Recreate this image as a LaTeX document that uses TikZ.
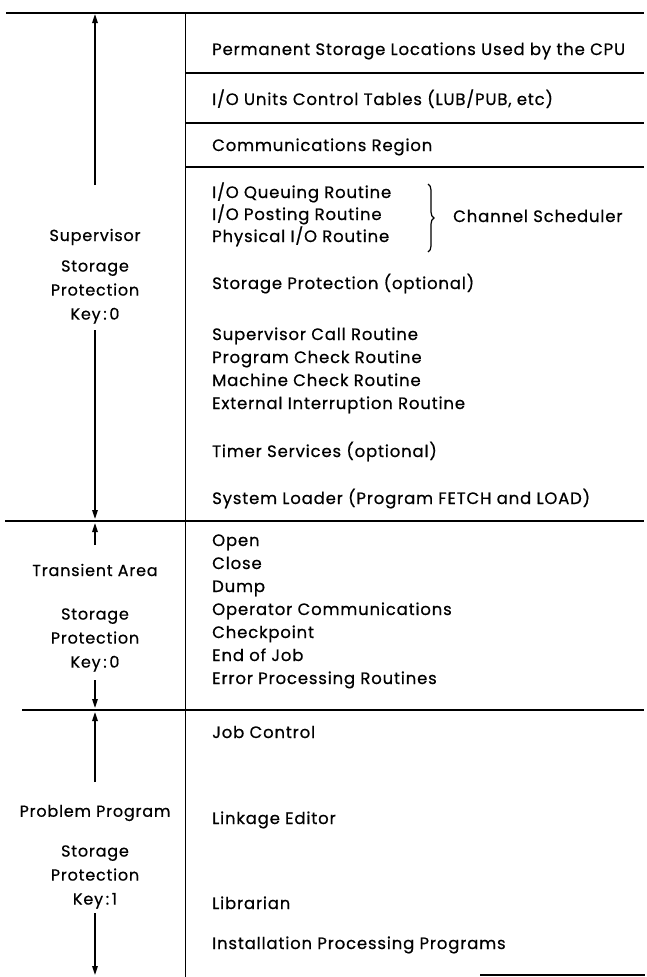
\documentclass[tikz,border=0pt]{standalone}
\usepackage{fontspec}
\setmainfont{Poppins}[LetterSpace=5,FakeBold=0.6]
\usetikzlibrary{arrows.meta,decorations.pathreplacing}
\begin{document}
\begin{tikzpicture}[x=1pt,y=-1pt,
  txt/.style={anchor=base west,inner sep=0pt,font=\fontsize{16.5}{18}\selectfont},
  lbl/.style={anchor=center,inner sep=0pt,align=center,font=\fontsize{16}{24}\selectfont},
  rule/.style={line width=1.3pt},
  divider/.style={line width=1pt},
  arr/.style={line width=1.6pt,-{Triangle[length=9pt,width=5.5pt]}}]
\useasboundingbox (0,0) rectangle (646,977);
% frame lines
\coordinate (topL) at (6,13);
\coordinate (topR) at (644,13);
\coordinate (divT) at (185,13);
\coordinate (divB) at (185,977);
\draw[rule] (topL) -- (topR);
\draw[divider] (divT) -- (divB);
\foreach \y/\n in {73/a,123/b,167/c}{
  \coordinate (l\n) at (185,\y);
  \coordinate (r\n) at (644,\y);
  \draw[rule] (l\n) -- (r\n);
}
\coordinate (supEndL) at (5,521);
\coordinate (supEndR) at (644,521);
\draw[rule] (supEndL) -- (supEndR);
\coordinate (trEndL) at (22,710);
\coordinate (trEndR) at (644,710);
\draw[rule] (trEndL) -- (trEndR);
\coordinate (botL) at (480,975);
\coordinate (botR) at (645,975);
\draw[rule] (botL) -- (botR);

% supervisor area contents (positions are baselines)
\node[txt] (perm) at (212,55) {Permanent Storage Locations Used by the CPU};
\node[txt] (iout) at (212,105) {I/O Units Control Tables (LUB/PUB, etc)};
\node[txt] (comm) at (212,151) {Communications Region};
\node[txt] (ioq) at (212,198) {I/O Queuing Routine};
\node[txt] (iop) at (212,220) {I/O Posting Routine};
\node[txt] (phys) at (212,242) {Physical I/O Routine};
\coordinate (brT) at (428,184);
\coordinate (brB) at (428,252);
\draw[line width=1.2pt,decorate,decoration={brace,amplitude=6pt}] (brT) -- (brB);
\node[txt] (chs) at (453,222) {Channel Scheduler};
\node[txt] (stp) at (212,289) {Storage Protection (optional)};
\node[txt] (svc) at (212,340) {Supervisor Call Routine};
\node[txt] (pck) at (212,363) {Program Check Routine};
\node[txt] (mck) at (212,386) {Machine Check Routine};
\node[txt] (ext) at (212,409) {External Interruption Routine};
\node[txt] (tim) at (212,457) {Timer Services (optional)};
\node[txt] (ldr) at (212,504) {System Loader (Program FETCH and LOAD)};

% transient area contents
\node[txt] (opn) at (212,546) {Open};
\node[txt] (cls) at (212,569) {Close};
\node[txt] (dmp) at (212,592) {Dump};
\node[txt] (opc) at (212,615) {Operator Communications};
\node[txt] (chk) at (212,638) {Checkpoint};
\node[txt] (eoj) at (212,661) {End of Job};
\node[txt] (err) at (212,684) {Error Processing Routines};

% problem program area contents
\node[txt] (jc) at (212,738) {Job Control};
\node[txt] (le) at (212,824) {Linkage Editor};
\node[txt] (lib) at (212,909) {Librarian};
\node[txt] (ipp) at (212,949) {Installation Processing Programs};

% left-hand labels and extent arrows
\node[lbl] (supN) at (95,237) {Supervisor};
\node[lbl] (supK) at (95,292) {Storage\\Protection\\Key\,:\,0};
\coordinate (supA1) at (95,185);
\coordinate (supA1e) at (95,14);
\coordinate (supA2) at (95,330);
\coordinate (supA2e) at (95,519);
\draw[arr] (supA1) -- (supA1e);
\draw[arr] (supA2) -- (supA2e);

\node[lbl] (trN) at (95,570) {Transient Area};
\node[lbl] (trK) at (95,640) {Storage\\Protection\\Key\,:\,0};
\coordinate (trA1) at (95,545);
\coordinate (trA1e) at (95,523);
\coordinate (trA2) at (95,680);
\coordinate (trA2e) at (95,708);
\draw[arr] (trA1) -- (trA1e);
\draw[arr] (trA2) -- (trA2e);

\node[lbl] (ppN) at (95,813) {Problem Program};
\node[lbl] (ppK) at (95,877) {Storage\\Protection\\Key\,:\,1};
\coordinate (ppA1) at (95,782);
\coordinate (ppA1e) at (95,712);
\coordinate (ppA2) at (95,913);
\coordinate (ppA2e) at (95,975);
\draw[arr] (ppA1) -- (ppA1e);
\draw[arr] (ppA2) -- (ppA2e);
\end{tikzpicture}
\end{document}
